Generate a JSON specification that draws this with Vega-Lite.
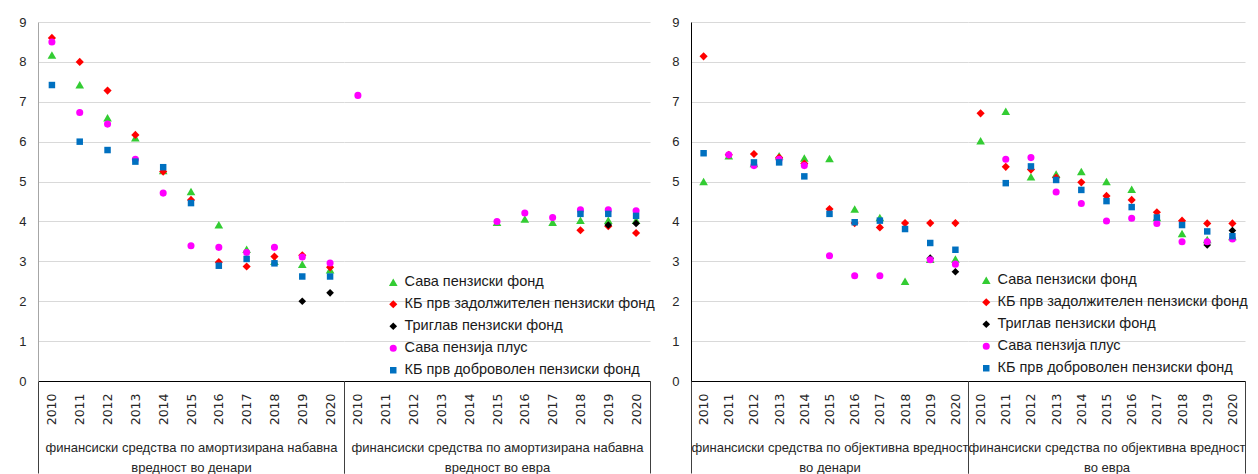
{
  "$schema": "https://vega.github.io/schema/vega-lite/v6.json",
  "background": "white",
  "padding": {"left": 18, "top": 16, "right": 0, "bottom": 0},
  "config": {"view": {"stroke": null}, "font": "Liberation Sans, sans-serif"},
  "datasets": {
    "pts": [
      {"g":"A1","year":"2010","s":"Сава пензиски фонд","v":8.17},
      {"g":"A1","year":"2011","s":"Сава пензиски фонд","v":7.43},
      {"g":"A1","year":"2012","s":"Сава пензиски фонд","v":6.6},
      {"g":"A1","year":"2013","s":"Сава пензиски фонд","v":6.1},
      {"g":"A1","year":"2014","s":"Сава пензиски фонд","v":5.28},
      {"g":"A1","year":"2015","s":"Сава пензиски фонд","v":4.75},
      {"g":"A1","year":"2016","s":"Сава пензиски фонд","v":3.92},
      {"g":"A1","year":"2017","s":"Сава пензиски фонд","v":3.3},
      {"g":"A1","year":"2018","s":"Сава пензиски фонд","v":3.0},
      {"g":"A1","year":"2019","s":"Сава пензиски фонд","v":2.93},
      {"g":"A1","year":"2020","s":"Сава пензиски фонд","v":2.79},
      {"g":"A2","year":"2015","s":"Сава пензиски фонд","v":3.98},
      {"g":"A2","year":"2016","s":"Сава пензиски фонд","v":4.06},
      {"g":"A2","year":"2017","s":"Сава пензиски фонд","v":3.98},
      {"g":"A2","year":"2018","s":"Сава пензиски фонд","v":4.03},
      {"g":"A2","year":"2019","s":"Сава пензиски фонд","v":4.03},
      {"g":"A2","year":"2020","s":"Сава пензиски фонд","v":4.03},
      {"g":"B1","year":"2010","s":"Сава пензиски фонд","v":5.0},
      {"g":"B1","year":"2011","s":"Сава пензиски фонд","v":5.65},
      {"g":"B1","year":"2012","s":"Сава пензиски фонд","v":5.45},
      {"g":"B1","year":"2013","s":"Сава пензиски фонд","v":5.65},
      {"g":"B1","year":"2014","s":"Сава пензиски фонд","v":5.59},
      {"g":"B1","year":"2015","s":"Сава пензиски фонд","v":5.58},
      {"g":"B1","year":"2016","s":"Сава пензиски фонд","v":4.31},
      {"g":"B1","year":"2017","s":"Сава пензиски фонд","v":4.1},
      {"g":"B1","year":"2018","s":"Сава пензиски фонд","v":2.5},
      {"g":"B1","year":"2019","s":"Сава пензиски фонд","v":3.05},
      {"g":"B1","year":"2020","s":"Сава пензиски фонд","v":3.06},
      {"g":"B2","year":"2010","s":"Сава пензиски фонд","v":6.02},
      {"g":"B2","year":"2011","s":"Сава пензиски фонд","v":6.76},
      {"g":"B2","year":"2012","s":"Сава пензиски фонд","v":5.12},
      {"g":"B2","year":"2013","s":"Сава пензиски фонд","v":5.19},
      {"g":"B2","year":"2014","s":"Сава пензиски фонд","v":5.25},
      {"g":"B2","year":"2015","s":"Сава пензиски фонд","v":5.0},
      {"g":"B2","year":"2016","s":"Сава пензиски фонд","v":4.81},
      {"g":"B2","year":"2017","s":"Сава пензиски фонд","v":4.1},
      {"g":"B2","year":"2018","s":"Сава пензиски фонд","v":3.7},
      {"g":"B2","year":"2019","s":"Сава пензиски фонд","v":3.55},
      {"g":"B2","year":"2020","s":"Сава пензиски фонд","v":3.62},

      {"g":"A1","year":"2010","s":"КБ прв задолжителен пензиски фонд","v":8.6},
      {"g":"A1","year":"2011","s":"КБ прв задолжителен пензиски фонд","v":8.0},
      {"g":"A1","year":"2012","s":"КБ прв задолжителен пензиски фонд","v":7.28},
      {"g":"A1","year":"2013","s":"КБ прв задолжителен пензиски фонд","v":6.17},
      {"g":"A1","year":"2014","s":"КБ прв задолжителен пензиски фонд","v":5.25},
      {"g":"A1","year":"2015","s":"КБ прв задолжителен пензиски фонд","v":4.54},
      {"g":"A1","year":"2016","s":"КБ прв задолжителен пензиски фонд","v":2.98},
      {"g":"A1","year":"2017","s":"КБ прв задолжителен пензиски фонд","v":2.87},
      {"g":"A1","year":"2018","s":"КБ прв задолжителен пензиски фонд","v":3.12},
      {"g":"A1","year":"2019","s":"КБ прв задолжителен пензиски фонд","v":3.15},
      {"g":"A1","year":"2020","s":"КБ прв задолжителен пензиски фонд","v":2.85},
      {"g":"A2","year":"2018","s":"КБ прв задолжителен пензиски фонд","v":3.78},
      {"g":"A2","year":"2019","s":"КБ прв задолжителен пензиски фонд","v":3.88},
      {"g":"A2","year":"2020","s":"КБ прв задолжителен пензиски фонд","v":3.71},
      {"g":"B1","year":"2010","s":"КБ прв задолжителен пензиски фонд","v":8.14},
      {"g":"B1","year":"2011","s":"КБ прв задолжителен пензиски фонд","v":5.67},
      {"g":"B1","year":"2012","s":"КБ прв задолжителен пензиски фонд","v":5.69},
      {"g":"B1","year":"2013","s":"КБ прв задолжителен пензиски фонд","v":5.6},
      {"g":"B1","year":"2014","s":"КБ прв задолжителен пензиски фонд","v":5.45},
      {"g":"B1","year":"2015","s":"КБ прв задолжителен пензиски фонд","v":4.31},
      {"g":"B1","year":"2016","s":"КБ прв задолжителен пензиски фонд","v":3.96},
      {"g":"B1","year":"2017","s":"КБ прв задолжителен пензиски фонд","v":3.85},
      {"g":"B1","year":"2018","s":"КБ прв задолжителен пензиски фонд","v":3.96},
      {"g":"B1","year":"2019","s":"КБ прв задолжителен пензиски фонд","v":3.96},
      {"g":"B1","year":"2020","s":"КБ прв задолжителен пензиски фонд","v":3.96},
      {"g":"B2","year":"2010","s":"КБ прв задолжителен пензиски фонд","v":6.71},
      {"g":"B2","year":"2011","s":"КБ прв задолжителен пензиски фонд","v":5.37},
      {"g":"B2","year":"2012","s":"КБ прв задолжителен пензиски фонд","v":5.3},
      {"g":"B2","year":"2013","s":"КБ прв задолжителен пензиски фонд","v":5.1},
      {"g":"B2","year":"2014","s":"КБ прв задолжителен пензиски фонд","v":4.98},
      {"g":"B2","year":"2015","s":"КБ прв задолжителен пензиски фонд","v":4.64},
      {"g":"B2","year":"2016","s":"КБ прв задолжителен пензиски фонд","v":4.54},
      {"g":"B2","year":"2017","s":"КБ прв задолжителен пензиски фонд","v":4.23},
      {"g":"B2","year":"2018","s":"КБ прв задолжителен пензиски фонд","v":4.02},
      {"g":"B2","year":"2019","s":"КБ прв задолжителен пензиски фонд","v":3.95},
      {"g":"B2","year":"2020","s":"КБ прв задолжителен пензиски фонд","v":3.95},

      {"g":"A1","year":"2019","s":"Триглав пензиски фонд","v":2.0},
      {"g":"A1","year":"2020","s":"Триглав пензиски фонд","v":2.21},
      {"g":"A2","year":"2019","s":"Триглав пензиски фонд","v":3.91},
      {"g":"A2","year":"2020","s":"Триглав пензиски фонд","v":3.95},
      {"g":"B1","year":"2019","s":"Триглав пензиски фонд","v":3.08},
      {"g":"B1","year":"2020","s":"Триглав пензиски фонд","v":2.74},
      {"g":"B2","year":"2019","s":"Триглав пензиски фонд","v":3.41},
      {"g":"B2","year":"2020","s":"Триглав пензиски фонд","v":3.77},

      {"g":"A1","year":"2010","s":"Сава пензија плус","v":8.5},
      {"g":"A1","year":"2011","s":"Сава пензија плус","v":6.73},
      {"g":"A1","year":"2012","s":"Сава пензија плус","v":6.44},
      {"g":"A1","year":"2013","s":"Сава пензија плус","v":5.56},
      {"g":"A1","year":"2014","s":"Сава пензија плус","v":4.71},
      {"g":"A1","year":"2015","s":"Сава пензија плус","v":3.39},
      {"g":"A1","year":"2016","s":"Сава пензија плус","v":3.35},
      {"g":"A1","year":"2017","s":"Сава пензија плус","v":3.22},
      {"g":"A1","year":"2018","s":"Сава пензија плус","v":3.35},
      {"g":"A1","year":"2019","s":"Сава пензија плус","v":3.11},
      {"g":"A1","year":"2020","s":"Сава пензија плус","v":2.96},
      {"g":"A2","year":"2010","s":"Сава пензија плус","v":7.16},
      {"g":"A2","year":"2015","s":"Сава пензија плус","v":4.0},
      {"g":"A2","year":"2016","s":"Сава пензија плус","v":4.21},
      {"g":"A2","year":"2017","s":"Сава пензија плус","v":4.1},
      {"g":"A2","year":"2018","s":"Сава пензија плус","v":4.29},
      {"g":"A2","year":"2019","s":"Сава пензија плус","v":4.29},
      {"g":"A2","year":"2020","s":"Сава пензија плус","v":4.27},
      {"g":"B1","year":"2011","s":"Сава пензија плус","v":5.67},
      {"g":"B1","year":"2012","s":"Сава пензија плус","v":5.4},
      {"g":"B1","year":"2013","s":"Сава пензија плус","v":5.56},
      {"g":"B1","year":"2014","s":"Сава пензија плус","v":5.4},
      {"g":"B1","year":"2015","s":"Сава пензија плус","v":3.14},
      {"g":"B1","year":"2016","s":"Сава пензија плус","v":2.64},
      {"g":"B1","year":"2017","s":"Сава пензија плус","v":2.64},
      {"g":"B1","year":"2019","s":"Сава пензија плус","v":3.04},
      {"g":"B1","year":"2020","s":"Сава пензија плус","v":2.93},
      {"g":"B2","year":"2011","s":"Сава пензија плус","v":5.56},
      {"g":"B2","year":"2012","s":"Сава пензија плус","v":5.6},
      {"g":"B2","year":"2013","s":"Сава пензија плус","v":4.74},
      {"g":"B2","year":"2014","s":"Сава пензија плус","v":4.45},
      {"g":"B2","year":"2015","s":"Сава пензија плус","v":4.01},
      {"g":"B2","year":"2016","s":"Сава пензија плус","v":4.08},
      {"g":"B2","year":"2017","s":"Сава пензија плус","v":3.95},
      {"g":"B2","year":"2018","s":"Сава пензија плус","v":3.49},
      {"g":"B2","year":"2019","s":"Сава пензија плус","v":3.49},
      {"g":"B2","year":"2020","s":"Сава пензија плус","v":3.56},

      {"g":"A1","year":"2010","s":"КБ прв доброволен пензиски фонд","v":7.42},
      {"g":"A1","year":"2011","s":"КБ прв доброволен пензиски фонд","v":6.0},
      {"g":"A1","year":"2012","s":"КБ прв доброволен пензиски фонд","v":5.79},
      {"g":"A1","year":"2013","s":"КБ прв доброволен пензиски фонд","v":5.5},
      {"g":"A1","year":"2014","s":"КБ прв доброволен пензиски фонд","v":5.36},
      {"g":"A1","year":"2015","s":"КБ прв доброволен пензиски фонд","v":4.46},
      {"g":"A1","year":"2016","s":"КБ прв доброволен пензиски фонд","v":2.89},
      {"g":"A1","year":"2017","s":"КБ прв доброволен пензиски фонд","v":3.06},
      {"g":"A1","year":"2018","s":"КБ прв доброволен пензиски фонд","v":2.95},
      {"g":"A1","year":"2019","s":"КБ прв доброволен пензиски фонд","v":2.62},
      {"g":"A1","year":"2020","s":"КБ прв доброволен пензиски фонд","v":2.62},
      {"g":"A2","year":"2018","s":"КБ прв доброволен пензиски фонд","v":4.19},
      {"g":"A2","year":"2019","s":"КБ прв доброволен пензиски фонд","v":4.19},
      {"g":"A2","year":"2020","s":"КБ прв доброволен пензиски фонд","v":4.14},
      {"g":"B1","year":"2010","s":"КБ прв доброволен пензиски фонд","v":5.71},
      {"g":"B1","year":"2012","s":"КБ прв доброволен пензиски фонд","v":5.48},
      {"g":"B1","year":"2013","s":"КБ прв доброволен пензиски фонд","v":5.48},
      {"g":"B1","year":"2014","s":"КБ прв доброволен пензиски фонд","v":5.13},
      {"g":"B1","year":"2015","s":"КБ прв доброволен пензиски фонд","v":4.19},
      {"g":"B1","year":"2016","s":"КБ прв доброволен пензиски фонд","v":3.98},
      {"g":"B1","year":"2017","s":"КБ прв доброволен пензиски фонд","v":4.02},
      {"g":"B1","year":"2018","s":"КБ прв доброволен пензиски фонд","v":3.81},
      {"g":"B1","year":"2019","s":"КБ прв доброволен пензиски фонд","v":3.46},
      {"g":"B1","year":"2020","s":"КБ прв доброволен пензиски фонд","v":3.29},
      {"g":"B2","year":"2011","s":"КБ прв доброволен пензиски фонд","v":4.96},
      {"g":"B2","year":"2012","s":"КБ прв доброволен пензиски фонд","v":5.38},
      {"g":"B2","year":"2013","s":"КБ прв доброволен пензиски фонд","v":5.04},
      {"g":"B2","year":"2014","s":"КБ прв доброволен пензиски фонд","v":4.79},
      {"g":"B2","year":"2015","s":"КБ прв доброволен пензиски фонд","v":4.51},
      {"g":"B2","year":"2016","s":"КБ прв доброволен пензиски фонд","v":4.36},
      {"g":"B2","year":"2017","s":"КБ прв доброволен пензиски фонд","v":4.1},
      {"g":"B2","year":"2018","s":"КБ прв доброволен пензиски фонд","v":3.91},
      {"g":"B2","year":"2019","s":"КБ прв доброволен пензиски фонд","v":3.75},
      {"g":"B2","year":"2020","s":"КБ прв доброволен пензиски фонд","v":3.63}
    ]
  },
  "spacing": 16,
  "resolve": {"scale": {"color": "independent", "shape": "independent", "size": "independent"}, "legend": {"color": "independent", "shape": "independent", "size": "independent"}},
  "hconcat": [
    {
      "bounds": "flush",
      "spacing": 0,
      "resolve": {"scale": {"color": "independent", "shape": "independent", "size": "independent"}, "legend": {"color": "independent", "shape": "independent", "size": "independent"}},
      "hconcat": [
        {
          "width": 306, "height": 359,
          "data": {"name": "pts"},
          "transform": [{"filter": "datum.g == 'A1'"}],
          "mark": {"type": "point", "filled": true, "opacity": 1, "strokeWidth": 0},
          "encoding": {
            "x": {"field": "year", "type": "ordinal",
              "scale": {"type": "band", "domain": ["2010","2011","2012","2013","2014","2015","2016","2017","2018","2019","2020"], "paddingInner": 0, "paddingOuter": 0},
              "axis": {"title": ["финансиски средства по амортизирана набавна", "вредност во денари"], "labelAngle": 270, "labelFont": "DejaVu Sans", "labelFontSize": 12.5, "labelColor": "#262626", "labelPadding": -80, "ticks": true, "tickBand": "extent", "tickSize": 92, "tickWidth": 1, "tickColor": {"condition": {"test": "datum.index < 0 || datum.value == '2020'", "value": "#404040"}, "value": "rgba(0,0,0,0)"}, "domainColor": "#000000", "titleY": 60, "titleBaseline": "top", "titleFont": "Liberation Sans", "titleFontSize": 13, "titleFontWeight": "normal", "titleColor": "#262626", "titleLineHeight": 20}},
            "y": {"field": "v", "type": "quantitative", "scale": {"domain": [0, 9], "nice": false},
              "axis": {"values": [0,1,2,3,4,5,6,7,8,9], "title": null, "grid": true, "gridColor": "#d9d9d9", "domainColor": "#a6a6a6", "ticks": false, "labelPadding": 12, "labelFont": "Liberation Sans", "labelFontSize": 13, "labelColor": "#262626"}},
            "color": {"field": "s", "type": "nominal", "scale": {"domain": ["Сава пензиски фонд", "КБ прв задолжителен пензиски фонд", "Триглав пензиски фонд", "Сава пензија плус", "КБ прв доброволен пензиски фонд"], "range": ["#33cc33", "#ff0000", "#000000", "#ff00ff", "#0070c0"]}, "legend": null},
            "shape": {"field": "s", "type": "nominal", "scale": {"domain": ["Сава пензиски фонд", "КБ прв задолжителен пензиски фонд", "Триглав пензиски фонд", "Сава пензија плус", "КБ прв доброволен пензиски фонд"], "range": ["triangle-up", "diamond", "diamond", "circle", "square"]}, "legend": null},
            "size": {"field": "s", "type": "nominal", "scale": {"domain": ["Сава пензиски фонд", "КБ прв задолжителен пензиски фонд", "Триглав пензиски фонд", "Сава пензија плус", "КБ прв доброволен пензиски фонд"], "range": [75, 42, 42, 55, 62]}, "legend": null}
          }
        },
        {
          "width": 306, "height": 359,
          "data": {"name": "pts"},
          "transform": [{"filter": "datum.g == 'A2'"}],
          "mark": {"type": "point", "filled": true, "opacity": 1, "strokeWidth": 0},
          "encoding": {
            "x": {"field": "year", "type": "ordinal",
              "scale": {"type": "band", "domain": ["2010","2011","2012","2013","2014","2015","2016","2017","2018","2019","2020"], "paddingInner": 0, "paddingOuter": 0},
              "axis": {"title": ["финансиски средства по амортизирана набавна", "вредност во евра"], "labelAngle": 270, "labelFont": "DejaVu Sans", "labelFontSize": 12.5, "labelColor": "#262626", "labelPadding": -80, "ticks": true, "tickBand": "extent", "tickSize": 92, "tickWidth": 1, "tickColor": {"condition": {"test": "datum.index < 0 || datum.value == '2020'", "value": "#404040"}, "value": "rgba(0,0,0,0)"}, "domainColor": "#000000", "titleY": 60, "titleBaseline": "top", "titleFont": "Liberation Sans", "titleFontSize": 13, "titleFontWeight": "normal", "titleColor": "#262626", "titleLineHeight": 20}},
            "y": {"field": "v", "type": "quantitative", "scale": {"domain": [0, 9], "nice": false},
              "axis": {"values": [0,1,2,3,4,5,6,7,8,9], "title": null, "grid": true, "gridColor": "#d9d9d9", "domain": false, "ticks": false, "labels": false}},
            "color": {"field": "s", "type": "nominal", "scale": {"domain": ["Сава пензиски фонд", "КБ прв задолжителен пензиски фонд", "Триглав пензиски фонд", "Сава пензија плус", "КБ прв доброволен пензиски фонд"], "range": ["#33cc33", "#ff0000", "#000000", "#ff00ff", "#0070c0"]},
              "legend": {"orient": "none", "legendX": 42, "legendY": 253, "title": null, "labelFont": "Liberation Sans", "labelFontSize": 14.5, "labelColor": "#1a1a1a", "rowPadding": 7, "labelOffset": 4, "padding": 0, "labelLimit": 400}},
            "shape": {"field": "s", "type": "nominal", "scale": {"domain": ["Сава пензиски фонд", "КБ прв задолжителен пензиски фонд", "Триглав пензиски фонд", "Сава пензија плус", "КБ прв доброволен пензиски фонд"], "range": ["triangle-up", "diamond", "diamond", "circle", "square"]},
              "legend": {"orient": "none", "legendX": 42, "legendY": 253, "title": null, "labelFont": "Liberation Sans", "labelFontSize": 14.5, "labelColor": "#1a1a1a", "rowPadding": 7, "labelOffset": 4, "padding": 0, "labelLimit": 400}},
            "size": {"field": "s", "type": "nominal", "scale": {"domain": ["Сава пензиски фонд", "КБ прв задолжителен пензиски фонд", "Триглав пензиски фонд", "Сава пензија плус", "КБ прв доброволен пензиски фонд"], "range": [75, 42, 42, 55, 62]},
              "legend": {"orient": "none", "legendX": 42, "legendY": 253, "title": null, "labelFont": "Liberation Sans", "labelFontSize": 14.5, "labelColor": "#1a1a1a", "rowPadding": 7, "labelOffset": 4, "padding": 0, "labelLimit": 400}}
          }
        }
      ]
    },
    {
      "bounds": "flush",
      "spacing": 0,
      "resolve": {"scale": {"color": "independent", "shape": "independent", "size": "independent"}, "legend": {"color": "independent", "shape": "independent", "size": "independent"}},
      "hconcat": [
        {
          "width": 277, "height": 359,
          "data": {"name": "pts"},
          "transform": [{"filter": "datum.g == 'B1'"}],
          "mark": {"type": "point", "filled": true, "opacity": 1, "strokeWidth": 0},
          "encoding": {
            "x": {"field": "year", "type": "ordinal",
              "scale": {"type": "band", "domain": ["2010","2011","2012","2013","2014","2015","2016","2017","2018","2019","2020"], "paddingInner": 0, "paddingOuter": 0},
              "axis": {"title": ["финансиски средства по објективна вредност", "во денари"], "labelAngle": 270, "labelFont": "DejaVu Sans", "labelFontSize": 12.5, "labelColor": "#262626", "labelPadding": -80, "ticks": true, "tickBand": "extent", "tickSize": 92, "tickWidth": 1, "tickColor": {"condition": {"test": "datum.index < 0 || datum.value == '2020'", "value": "#404040"}, "value": "rgba(0,0,0,0)"}, "domainColor": "#000000", "titleY": 60, "titleBaseline": "top", "titleFont": "Liberation Sans", "titleFontSize": 13, "titleFontWeight": "normal", "titleColor": "#262626", "titleLineHeight": 20}},
            "y": {"field": "v", "type": "quantitative", "scale": {"domain": [0, 9], "nice": false},
              "axis": {"values": [0,1,2,3,4,5,6,7,8,9], "title": null, "grid": true, "gridColor": "#d9d9d9", "domainColor": "#000000", "ticks": false, "labelPadding": 12, "labelFont": "Liberation Sans", "labelFontSize": 13, "labelColor": "#262626"}},
            "color": {"field": "s", "type": "nominal", "scale": {"domain": ["Сава пензиски фонд", "КБ прв задолжителен пензиски фонд", "Триглав пензиски фонд", "Сава пензија плус", "КБ прв доброволен пензиски фонд"], "range": ["#33cc33", "#ff0000", "#000000", "#ff00ff", "#0070c0"]}, "legend": null},
            "shape": {"field": "s", "type": "nominal", "scale": {"domain": ["Сава пензиски фонд", "КБ прв задолжителен пензиски фонд", "Триглав пензиски фонд", "Сава пензија плус", "КБ прв доброволен пензиски фонд"], "range": ["triangle-up", "diamond", "diamond", "circle", "square"]}, "legend": null},
            "size": {"field": "s", "type": "nominal", "scale": {"domain": ["Сава пензиски фонд", "КБ прв задолжителен пензиски фонд", "Триглав пензиски фонд", "Сава пензија плус", "КБ прв доброволен пензиски фонд"], "range": [75, 42, 42, 55, 62]}, "legend": null}
          }
        },
        {
          "width": 277, "height": 359,
          "data": {"name": "pts"},
          "transform": [{"filter": "datum.g == 'B2'"}],
          "mark": {"type": "point", "filled": true, "opacity": 1, "strokeWidth": 0},
          "encoding": {
            "x": {"field": "year", "type": "ordinal",
              "scale": {"type": "band", "domain": ["2010","2011","2012","2013","2014","2015","2016","2017","2018","2019","2020"], "paddingInner": 0, "paddingOuter": 0},
              "axis": {"title": ["финансиски средства по објективна вредност", "во евра"], "labelAngle": 270, "labelFont": "DejaVu Sans", "labelFontSize": 12.5, "labelColor": "#262626", "labelPadding": -80, "ticks": true, "tickBand": "extent", "tickSize": 92, "tickWidth": 1, "tickColor": {"condition": {"test": "datum.index < 0 || datum.value == '2020'", "value": "#404040"}, "value": "rgba(0,0,0,0)"}, "domainColor": "#000000", "titleY": 60, "titleBaseline": "top", "titleFont": "Liberation Sans", "titleFontSize": 13, "titleFontWeight": "normal", "titleColor": "#262626", "titleLineHeight": 20}},
            "y": {"field": "v", "type": "quantitative", "scale": {"domain": [0, 9], "nice": false},
              "axis": {"values": [0,1,2,3,4,5,6,7,8,9], "title": null, "grid": true, "gridColor": "#d9d9d9", "domain": false, "ticks": false, "labels": false}},
            "color": {"field": "s", "type": "nominal", "scale": {"domain": ["Сава пензиски фонд", "КБ прв задолжителен пензиски фонд", "Триглав пензиски фонд", "Сава пензија плус", "КБ прв доброволен пензиски фонд"], "range": ["#33cc33", "#ff0000", "#000000", "#ff00ff", "#0070c0"]},
              "legend": {"orient": "none", "legendX": 11, "legendY": 251, "title": null, "labelFont": "Liberation Sans", "labelFontSize": 14.5, "labelColor": "#1a1a1a", "rowPadding": 7, "labelOffset": 4, "padding": 0, "labelLimit": 400}},
            "shape": {"field": "s", "type": "nominal", "scale": {"domain": ["Сава пензиски фонд", "КБ прв задолжителен пензиски фонд", "Триглав пензиски фонд", "Сава пензија плус", "КБ прв доброволен пензиски фонд"], "range": ["triangle-up", "diamond", "diamond", "circle", "square"]},
              "legend": {"orient": "none", "legendX": 11, "legendY": 251, "title": null, "labelFont": "Liberation Sans", "labelFontSize": 14.5, "labelColor": "#1a1a1a", "rowPadding": 7, "labelOffset": 4, "padding": 0, "labelLimit": 400}},
            "size": {"field": "s", "type": "nominal", "scale": {"domain": ["Сава пензиски фонд", "КБ прв задолжителен пензиски фонд", "Триглав пензиски фонд", "Сава пензија плус", "КБ прв доброволен пензиски фонд"], "range": [75, 42, 42, 55, 62]},
              "legend": {"orient": "none", "legendX": 11, "legendY": 251, "title": null, "labelFont": "Liberation Sans", "labelFontSize": 14.5, "labelColor": "#1a1a1a", "rowPadding": 7, "labelOffset": 4, "padding": 0, "labelLimit": 400}}
          }
        }
      ]
    }
  ]
}
